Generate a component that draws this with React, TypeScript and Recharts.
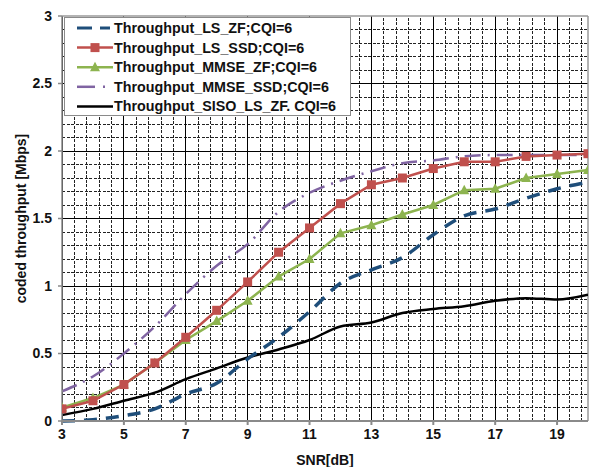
import React from 'react';
import { LineChart, Line, XAxis, YAxis, ReferenceLine } from 'recharts';

const snr = [3, 4, 5, 6, 7, 8, 9, 10, 11, 12, 13, 14, 15, 16, 17, 18, 19, 20];
const lsZf = [0.0, 0.01, 0.04, 0.09, 0.2, 0.28, 0.46, 0.62, 0.81, 1.02, 1.12, 1.21, 1.38, 1.52, 1.57, 1.65, 1.72, 1.77];
const lsSsd = [0.09, 0.15, 0.27, 0.43, 0.62, 0.82, 1.03, 1.25, 1.43, 1.61, 1.75, 1.8, 1.87, 1.92, 1.92, 1.96, 1.97, 1.98];
const mmseZf = [0.1, 0.17, 0.27, 0.43, 0.6, 0.74, 0.89, 1.07, 1.2, 1.39, 1.45, 1.53, 1.6, 1.71, 1.72, 1.8, 1.83, 1.86];
const mmseSsd = [0.22, 0.33, 0.5, 0.7, 0.94, 1.15, 1.31, 1.55, 1.69, 1.78, 1.85, 1.91, 1.93, 1.96, 1.97, 1.97, 1.97, 1.97];
const siso = [0.045, 0.09, 0.15, 0.21, 0.31, 0.39, 0.47, 0.53, 0.6, 0.7, 0.73, 0.8, 0.83, 0.85, 0.89, 0.91, 0.9, 0.935];

const xTicks = [3, 5, 7, 9, 11, 13, 15, 17, 19];
const yTicks = [0, 0.5, 1, 1.5, 2, 2.5, 3];
const seriesNames = [
  'Throughput_LS_ZF;CQI=6',
  'Throughput_LS_SSD;CQI=6',
  'Throughput_MMSE_ZF;CQI=6',
  'Throughput_MMSE_SSD;CQI=6',
  'Throughput_SISO_LS_ZF. CQI=6',
];

const data = snr.map((x, i) => ({
  x,
  lsZf: lsZf[i],
  lsSsd: lsSsd[i],
  mmseZf: mmseZf[i],
  mmseSsd: mmseSsd[i],
  siso: siso[i],
}));

// grid positions (axis units)
const minorX: number[] = [];
for (let k = 1; k < 43; k++) {
  const v = Math.round((3 + k * 0.4) * 10) / 10;
  if (v < 20 && !xTicks.includes(v)) minorX.push(v);
}
const minorY: number[] = [];
for (let k = 1; k < 30; k++) {
  if (k % 5 !== 0) minorY.push(k / 10);
}

const FONT = '"Liberation Sans", Arial, sans-serif';
const BLUE = '#1F4E7A';
const RED = '#C0504D';
const GREEN = '#8DB44F';
const PURPLE = '#8064A2';

const SquareDot = (props: any) => {
  const { cx, cy } = props;
  if (cx == null || cy == null) return null;
  return <rect x={cx - 4.5} y={cy - 4.5} width={9} height={9} fill={RED} />;
};
const TriDot = (props: any) => {
  const { cx, cy } = props;
  if (cx == null || cy == null) return null;
  return <polygon points={`${cx},${cy - 5.5} ${cx + 5},${cy + 4} ${cx - 5},${cy + 4}`} fill={GREEN} />;
};

const LegendBox = () => {
  const rowH = 19.6;
  return (
    <div
      style={{
        position: 'absolute',
        left: 64,
        top: 17,
        width: 287,
        height: 99,
        border: '1.5px solid #8a8a8a',
        background: '#fff',
        boxSizing: 'border-box',
      }}
    >
      <svg width={287} height={99} style={{ position: 'absolute', left: -1.5, top: -1.5 }}>
        {seriesNames.map((name, i) => {
          const y = 11 + i * rowH;
          let sym: React.ReactNode = null;
          if (i === 0)
            sym = (
              <g>
                <line x1={13} x2={28} y1={y} y2={y} stroke={BLUE} strokeWidth={3} />
                <line x1={36} x2={46} y1={y} y2={y} stroke={BLUE} strokeWidth={3} />
              </g>
            );
          if (i === 1)
            sym = (
              <g>
                <line x1={13} x2={49} y1={y} y2={y} stroke={RED} strokeWidth={2.5} />
                <rect x={26.5} y={y - 4.5} width={9} height={9} fill={RED} />
              </g>
            );
          if (i === 2)
            sym = (
              <g>
                <line x1={13} x2={49} y1={y} y2={y} stroke={GREEN} strokeWidth={2.5} />
                <polygon points={`${31},${y - 5.5} ${36},${y + 4} ${26},${y + 4}`} fill={GREEN} />
              </g>
            );
          if (i === 3)
            sym = (
              <g>
                <line x1={13} x2={31} y1={y} y2={y} stroke={PURPLE} strokeWidth={2.5} />
                <line x1={39} x2={41} y1={y} y2={y} stroke={PURPLE} strokeWidth={2.5} />
              </g>
            );
          if (i === 4) sym = <line x1={13} x2={49} y1={y} y2={y} stroke="#000" strokeWidth={2.5} />;
          return (
            <g key={name}>
              {sym}
              <text x={50} y={y + 5} fontFamily={FONT} fontWeight="bold" fontSize={14.3} fill="#111">
                {name}
              </text>
            </g>
          );
        })}
      </svg>
    </div>
  );
};

const YTitle = (props: any) => {
  const vb = props.viewBox || {};
  const cy = (vb.y || 0) + (vb.height || 0) / 2;
  return (
    <text
      x={21}
      y={cy}
      transform={`rotate(-90 21 ${cy})`}
      textAnchor="middle"
      dominantBaseline="central"
      fontFamily={FONT}
      fontWeight="bold"
      fontSize={14}
      fill="#111"
    >
      coded throughput [Mbps]
    </text>
  );
};

const XTitle = (props: any) => {
  const vb = props.viewBox || {};
  const cx = (vb.x || 0) + (vb.width || 0) / 2;
  return (
    <text x={cx} y={465} textAnchor="middle" fontFamily={FONT} fontWeight="bold" fontSize={14} fill="#111">
      SNR[dB]
    </text>
  );
};

export default function App() {
  return (
    <div style={{ position: 'absolute', left: 0, top: 0, width: 590, height: 467, background: '#fff' }}>
      <LineChart width={590} height={467} data={data} margin={{ top: 16, right: 2, bottom: 0, left: 0 }}>
        <XAxis
          dataKey="x"
          type="number"
          domain={[3, 20]}
          ticks={xTicks}
          allowDataOverflow
          height={46}
          tickSize={4}
          tickMargin={4}
          stroke="#8a8a8a"
          strokeWidth={2}
          tick={{ fontFamily: FONT, fontWeight: 'bold', fontSize: 14, fill: '#111' }}
          label={<XTitle />}
        />
        <YAxis
          type="number"
          domain={[0, 3]}
          ticks={yTicks}
          width={62}
          tickSize={4}
          tickMargin={6}
          stroke="#8a8a8a"
          strokeWidth={1.5}
          tick={{ fontFamily: FONT, fontWeight: 'bold', fontSize: 14, fill: '#111' }}
          label={<YTitle />}
        />
        {minorX.map((v) => (
          <ReferenceLine
            key={'mx' + v}
            x={v}
            stroke="#222"
            strokeWidth={1}
            strokeDasharray="3 1.5"
            shapeRendering="crispEdges"
          />
        ))}
        {minorY.map((v) => (
          <ReferenceLine
            key={'my' + v}
            y={v}
            stroke="#222"
            strokeWidth={1}
            strokeDasharray="3 1.5"
            shapeRendering="crispEdges"
          />
        ))}
        {xTicks.map((v) => (
          <ReferenceLine key={'Mx' + v} x={v} stroke="#000" strokeWidth={1} shapeRendering="crispEdges" />
        ))}
        {yTicks.slice(1, 6).map((v) => (
          <ReferenceLine key={'My' + v} y={v} stroke="#000" strokeWidth={1} shapeRendering="crispEdges" />
        ))}
        <ReferenceLine y={3} stroke="#9a9a9a" strokeWidth={1.5} />
        <ReferenceLine x={20} stroke="#9a9a9a" strokeWidth={1.5} />
        <Line dataKey="siso" type="monotone" stroke="#000" strokeWidth={2.5} dot={false} isAnimationActive={false} />
        <Line
          dataKey="lsZf"
          type="monotone"
          stroke={BLUE}
          strokeWidth={3.5}
          strokeDasharray="13 9"
          dot={false}
          isAnimationActive={false}
        />
        <Line
          dataKey="mmseSsd"
          type="monotone"
          stroke={PURPLE}
          strokeWidth={2.5}
          strokeDasharray="16 7 2 7"
          dot={false}
          isAnimationActive={false}
        />
        <Line dataKey="mmseZf" type="linear" stroke={GREEN} strokeWidth={2.5} dot={<TriDot />} isAnimationActive={false} />
        <Line dataKey="lsSsd" type="linear" stroke={RED} strokeWidth={2.5} dot={<SquareDot />} isAnimationActive={false} />
      </LineChart>
      <LegendBox />
    </div>
  );
}
